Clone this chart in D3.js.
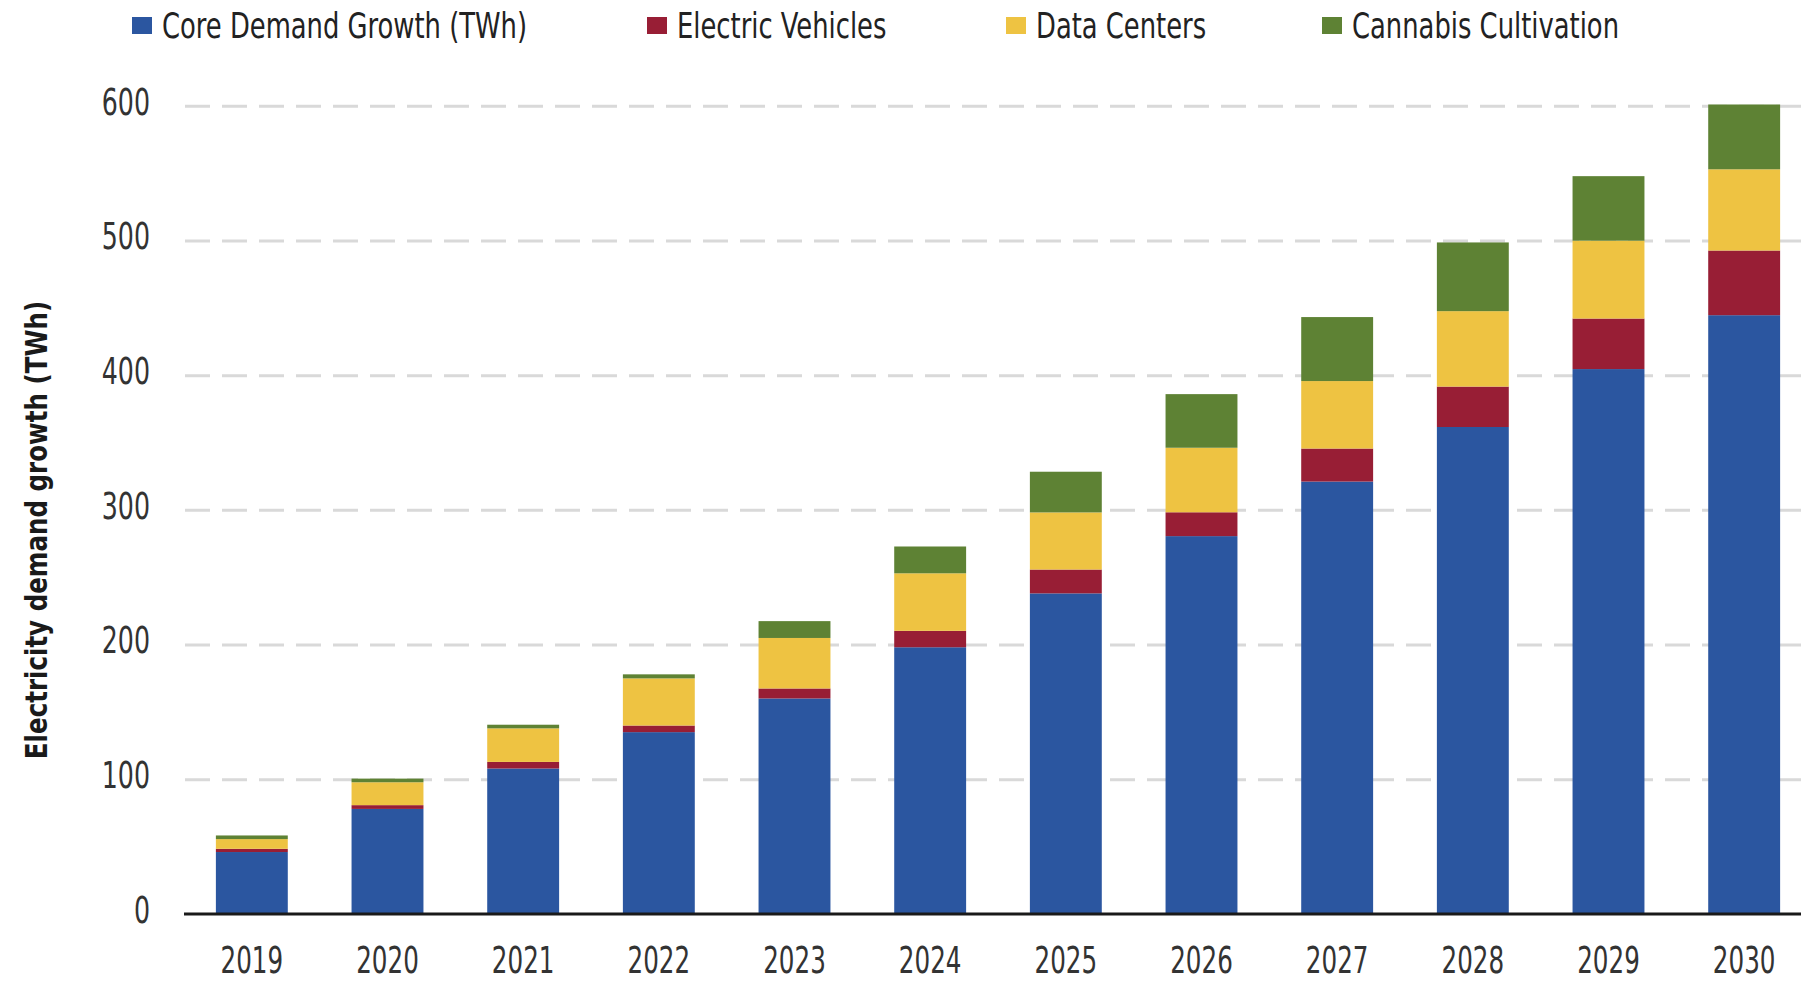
<!DOCTYPE html>
<html>
<head>
<meta charset="utf-8">
<script src="https://cdn.jsdelivr.net/npm/d3@7"></script>
<style>
  body { margin: 0; background: #ffffff; }
  text { font-family: "Liberation Sans Narrow", "DejaVu Sans Condensed", sans-serif; }
</style>
</head>
<body>
<div id="chart"></div>
<script>
var width = 1801;
var height = 981;

// values (TWh)
var years = ["2019", "2020", "2021", "2022", "2023", "2024", "2025", "2026", "2027", "2028", "2029", "2030"];
var core = [46, 78, 108, 135, 160, 198, 238, 280.5, 321, 361.5, 404.5, 444.5];
var ev = [2.4, 2.8, 4.9, 4.9, 7.4, 12.2, 17.7, 17.7, 24.5, 30, 37.5, 48];
var dataCenters = [7.2, 17, 24.9, 35, 37.5, 42.7, 42.4, 47.9, 50.1, 56, 57.8, 60.3];
var cannabis = [2.7, 2.7, 2.7, 3, 12.5, 19.9, 30.2, 39.8, 47.5, 51, 47.9, 48.1];

var seriesNames = ["Core Demand Growth (TWh)", "Electric Vehicles", "Data Centers", "Cannabis Cultivation"];
var seriesKeys = ["core", "ev", "dc", "cannabis"];
var colors = ["#2b56a0", "#981e35", "#eec342", "#5e8234"];
var yTicks = [0, 100, 200, 300, 400, 500, 600];

// build rows for d3.stack
var rows = years.map(function(yr, i) {
  return { year: yr, core: core[i], ev: ev[i], dc: dataCenters[i], cannabis: cannabis[i] };
});

var svg = d3.select("#chart")
  .append("svg")
  .attr("width", width)
  .attr("height", height);

var x = d3.scaleBand()
  .domain(years)
  .range([184, 1812])
  .paddingInner(0.47)
  .paddingOuter(0.235);

var y = d3.scaleLinear()
  .domain([0, 600])
  .range([914, 105.7]);

var color = d3.scaleOrdinal()
  .domain(seriesKeys)
  .range(colors);

// the original uses a very narrow font, squeeze text horizontally
var squeeze = 0.74;

// dashed gridlines
var grid = svg.append("g")
  .attr("transform", "translate(185,0)")
  .call(d3.axisLeft(y).tickValues(yTicks.slice(1)).tickSize(-(width - 185)).tickFormat(""));
grid.select(".domain").remove();
grid.selectAll("line")
  .attr("stroke", "#d9d9d9")
  .attr("stroke-width", 3)
  .attr("stroke-dasharray", "25,12");

// y tick labels
var yAxis = svg.append("g")
  .attr("transform", "translate(150,0)")
  .call(d3.axisLeft(y).tickValues(yTicks).tickSize(0).tickPadding(0));
yAxis.select(".domain").remove();
yAxis.selectAll("text")
  .attr("dy", "0.22em")
  .attr("transform", "scale(" + squeeze + ",1)")
  .style("font-size", "38px")
  .style("fill", "#333");

// stacked bars
var stack = d3.stack().keys(seriesKeys);
var layers = stack(rows);

svg.selectAll("g.layer")
  .data(layers)
  .enter()
  .append("g")
  .attr("class", "layer")
  .attr("fill", function(d) { return color(d.key); })
  .selectAll("rect")
  .data(function(d) { return d; })
  .enter()
  .append("rect")
  .attr("x", function(d) { return x(d.data.year); })
  .attr("width", x.bandwidth())
  .attr("y", function(d) { return y(d[1]); })
  .attr("height", function(d) { return y(d[0]) - y(d[1]); });

// x axis
var xAxis = svg.append("g")
  .attr("transform", "translate(0,914)")
  .call(d3.axisBottom(x).tickSize(0).tickPadding(33));
xAxis.select(".domain").remove();
xAxis.selectAll("text")
  .attr("transform", "scale(" + squeeze + ",1)")
  .style("font-size", "37px")
  .style("fill", "#333");

svg.append("line")
  .attr("x1", 184)
  .attr("x2", width)
  .attr("y1", 914)
  .attr("y2", 914)
  .attr("stroke", "#1a1a1a")
  .attr("stroke-width", 3);

// y axis title
svg.append("text")
  .attr("transform", "translate(47,530) rotate(-90) scale(0.88,1)")
  .attr("text-anchor", "middle")
  .style("font-size", "31px")
  .style("font-weight", "bold")
  .style("fill", "#1a1a1a")
  .text("Electricity demand growth (TWh)");

// legend
var legendX = [132, 647, 1006, 1322];
var legend = svg.selectAll("g.legend")
  .data(seriesNames)
  .enter()
  .append("g")
  .attr("class", "legend")
  .attr("transform", function(d, i) { return "translate(" + legendX[i] + ",0)"; });

legend.append("rect")
  .attr("x", 0)
  .attr("y", 17)
  .attr("width", 20)
  .attr("height", 17)
  .attr("fill", function(d, i) { return colors[i]; });

legend.append("text")
  .attr("transform", "translate(30,38) scale(0.82,1)")
  .style("font-size", "35px")
  .style("fill", "#222")
  .text(function(d) { return d; });
</script>
</body>
</html>
